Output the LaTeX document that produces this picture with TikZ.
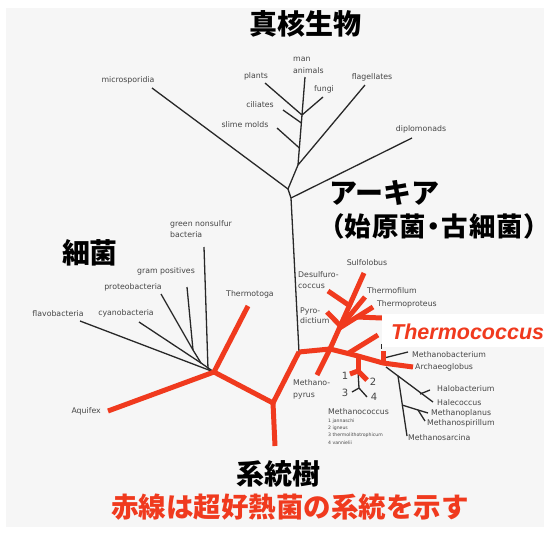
\documentclass[tikz,border=0pt]{standalone}
\usepackage{fontspec}
\setmainfont{DejaVu Sans}
\newfontfamily\jp{Noto Sans CJK JP}
\newfontfamily\jpp{Noto Sans CJK JP}[RawFeature=+palt,LetterSpace=4]
\newfontfamily\arialf{Liberation Sans}
\definecolor{hotred}{RGB}{240,58,30}
\definecolor{linec}{RGB}{40,40,40}
\definecolor{labc}{RGB}{70,70,70}
\definecolor{bgc}{RGB}{246,246,246}
\begin{document}
\begin{tikzpicture}[x=1pt,y=-1pt,
  blk/.style={draw=linec,line width=1.3pt},
  hot/.style={draw=hotred,line width=5pt,line join=round},
  lab/.style={font=\fontsize{7.8}{9}\selectfont,text=labc,inner sep=0pt,text height=6pt,text depth=1pt},
  num/.style={font=\fontsize{10}{12}\selectfont,text=labc,inner sep=0pt},
  tinylab/.style={font=\fontsize{4.6}{5}\selectfont,text=labc,inner sep=0pt,anchor=west},
  ttl/.style={font=\jp\bfseries\fontsize{28}{30}\selectfont,inner sep=0pt,text height=0.88em,text depth=0.12em}]

\useasboundingbox (0,0) rectangle (550,533);
\fill[white] (0,0) rectangle (550,533);
\fill[bgc] (6,8) rectangle (544,527);

% ---------- coordinates ----------
% eukaryotes
\coordinate (eM) at (288,189);
\coordinate (eD) at (291,198);
\coordinate (eF) at (298,165);
\coordinate (eSl) at (299.4,148);
\coordinate (eCi) at (301.4,123);
\coordinate (eT) at (302,115);
\coordinate (tMic) at (152,88);
\coordinate (tDip) at (412,138);
\coordinate (tFla) at (365,85);
\coordinate (tSli) at (277,128);
\coordinate (tCil) at (283,110);
\coordinate (tPla) at (265,83);
\coordinate (tFun) at (323,97);
\coordinate (tMan) at (305,77);
% bacteria
\coordinate (bJ) at (214,372);
\coordinate (bG) at (193,350);
\coordinate (bS) at (201,363);
\coordinate (tGreen) at (204,247);
\coordinate (bGe) at (208,369);
\coordinate (tGram) at (187,287);
\coordinate (tPro) at (161,294);
\coordinate (tCya) at (139,322);
\coordinate (tFlv) at (80,321);
\coordinate (tAqu) at (108,411);
\coordinate (tTmt) at (248,306);
\coordinate (rK) at (273,403);
\coordinate (rBot) at (275,446);
% archaea
\coordinate (aR) at (299,352);
\coordinate (aB) at (330,349);
\coordinate (aM1) at (358,356);
\coordinate (aE) at (383,363);
\coordinate (tArc) at (413,367);
\coordinate (tMpy) at (317,375);
\coordinate (tSul) at (364,273);
\coordinate (cDes) at (350,306);
\coordinate (tDes) at (328,291);
\coordinate (cPyr) at (340.6,326);
\coordinate (tPyr) at (327,312);
\coordinate (cP1) at (339.5,328);
\coordinate (tTfi) at (365,297);
\coordinate (tTpr) at (373,307);
\coordinate (cHz) at (357,317);
\coordinate (tHz) at (382,318);
\coordinate (cTc) at (348,353.5);
\coordinate (tTc) at (378,335);
\coordinate (mM2) at (358,371);
\coordinate (t1) at (350,374);
\coordinate (t2) at (367,380);
\coordinate (mM3) at (359,388);
\coordinate (t3) at (352,392);
\coordinate (t4) at (367,397);
\coordinate (mbTop) at (383,351);
\coordinate (mbB) at (384,358);
\coordinate (tMba) at (408,352);
\coordinate (hS) at (386,367);
\coordinate (hH) at (433,402);
\coordinate (hB) at (420,394);
\coordinate (tHal) at (430,390);
\coordinate (msT) at (398,376);
\coordinate (msB) at (407,436);
\coordinate (mpB) at (402,405);
\coordinate (mpJ) at (418,410);
\coordinate (tMpl) at (428,413);
\coordinate (tMsp) at (425,421);
\coordinate (tick1) at (381,344);
\coordinate (tick2) at (381,349);

% ---------- black branches ----------
\draw[blk] (aR) -- (eD) -- (eM) -- (eF) -- (eT) -- (tMan);
\draw[blk] (eM) -- (tMic);
\draw[blk] (eD) -- (tDip);
\draw[blk] (eF) -- (tFla);
\draw[blk] (eSl) -- (tSli);
\draw[blk] (eCi) -- (tCil);
\draw[blk] (eT) -- (tPla);
\draw[blk] (eT) -- (tFun);

\draw[blk] (tGram) -- (bG);
\draw[blk] (tPro) -- (bG);
\draw[blk] (bG) -- (bS) -- (bJ);
\draw[blk] (tCya) -- (bS);
\draw[blk] (tFlv) -- (bJ);
\draw[blk] (tGreen) -- (bGe);

\draw[blk] (mM2) -- (mM3);
\draw[blk] (mM3) -- (t3);
\draw[blk] (mM3) -- (t4);
\draw[blk] (mbB) -- (tMba);
\draw[blk] (hS) -- (hH);
\draw[blk] (hB) -- (tHal);
\draw[blk] (msT) -- (msB);
\draw[blk] (mpB) -- (mpJ) -- (tMpl);
\draw[blk] (mpJ) -- (tMsp);
\draw[draw=linec,line width=0.8pt] (tick1) -- (tick2);

% ---------- red (hyperthermophile) branches ----------
\draw[hot] (tAqu) -- (bJ) -- (tTmt);
\draw[hot] (bJ) -- (rK) -- (aR);
\draw[hot] (rK) -- (rBot);
\draw[hot] (aR) -- (aB) -- (aM1) -- (aE) -- (tArc);
\draw[hot] (aB) -- (tMpy);
\draw[hot] (aB) -- (tSul);
\draw[hot] (cDes) -- (tDes);
\draw[hot] (cPyr) -- (tPyr);
\draw[hot] (cP1) -- (tTfi);
\draw[hot] (cP1) -- (tTpr);
\draw[hot] (cHz) -- (tHz);
\draw[hot] (cTc) -- (tTc);
\draw[hot] (aM1) -- (mM2);
\draw[hot] (mM2) -- (t1);
\draw[hot] (mM2) -- (t2);
\draw[hot] (aE) -- (mbTop);

% ---------- labels ----------
\node[lab] (lMic) at (128,80) {microsporidia};
\node[lab] (lPla) at (256,76) {plants};
\node[lab] (lCil) at (260,105) {ciliates};
\node[lab] (lSli) at (245,125) {slime molds};
\node[lab,anchor=west] (lMan) at (293,59) {man};
\node[lab,anchor=west] (lAni) at (293,71) {animals};
\node[lab] (lFun) at (324,89) {fungi};
\node[lab] (lFla) at (372,77) {flagellates};
\node[lab] (lDip) at (421,129) {diplomonads};

\node[lab,anchor=west] (lGr1) at (170,224) {green nonsulfur};
\node[lab,anchor=west] (lGr2) at (170,235) {bacteria};
\node[lab] (lGram) at (166,271) {gram positives};
\node[lab] (lPro) at (133,287) {proteobacteria};
\node[lab] (lCya) at (126,313) {cyanobacteria};
\node[lab] (lFlv) at (58,314) {flavobacteria};
\node[lab] (lTmt) at (250,294) {Thermotoga};
\node[lab,anchor=east] (lAqu) at (101,411) {Aquifex};

\node[lab] (lSul) at (367,263) {Sulfolobus};
\node[lab,anchor=west] (lDes1) at (298,275) {Desulfuro-};
\node[lab,anchor=west] (lDes2) at (298,286) {coccus};
\node[lab,anchor=west] (lTfi) at (367,291) {Thermofilum};
\node[lab,anchor=west] (lTpr) at (377,304) {Thermoproteus};
\node[lab,anchor=west] (lPyr1) at (300,311) {Pyro-};
\node[lab,anchor=west] (lPyr2) at (300,321) {dictium};
\node[lab,anchor=west] (lMpy1) at (293,383) {Methano-};
\node[lab,anchor=west] (lMpy2) at (293,395) {pyrus};
\node[lab,anchor=west] (lMba) at (412,355) {Methanobacterium};
\node[lab,anchor=west] (lArc) at (415,367) {Archaeoglobus};
\node[lab,anchor=west] (lHab) at (437,389) {Halobacterium};
\node[lab,anchor=west] (lHac) at (437,403) {Halecoccus};
\node[lab,anchor=west] (lMpl) at (431,413) {Methanoplanus};
\node[lab,anchor=west] (lMsp) at (427,423) {Methanospirillum};
\node[lab,anchor=west] (lMsa) at (408,438) {Methanosarcina};
\node[lab,anchor=west] (lMco) at (328,412) {Methanococcus};
\node[tinylab] (s1) at (328,421.5) {1 jannaschi};
\node[tinylab] (s2) at (328,428.5) {2 igneus};
\node[tinylab] (s3) at (328,435.5) {3 thermolithotrophicum};
\node[tinylab] (s4) at (328,442.5) {4 vannielii};
\node[num] (n1) at (345,376) {1};
\node[num] (n2) at (373,382) {2};
\node[num] (n3) at (345,393) {3};
\node[num] (n4) at (374,397) {4};

% Thermococcus
\fill[white] (382,314) rectangle (550,347);
\node[inner sep=0pt,anchor=west,text=hotred,font=\arialf\bfseries\itshape\fontsize{21.5}{24}\selectfont] (lTc) at (391,332) {Thermococcus};

% titles
\node[ttl] (tEuk) at (305,31) {真核生物};
\node[ttl,anchor=west] (tArch) at (329,200) {アーキア};
\node[ttl,anchor=west,font=\jpp\bfseries\fontsize{26.5}{29}\selectfont] (tArch2) at (330,233) {（始原菌・古細菌）};
\node[ttl] (tBac) at (90,260) {細菌};
\node[ttl] (tTree) at (278,481) {系統樹};
\node[ttl,text=hotred,font=\jp\bfseries\fontsize{27.5}{30}\selectfont] (tNote) at (290,514) {赤線は超好熱菌の系統を示す};
\end{tikzpicture}
\end{document}
